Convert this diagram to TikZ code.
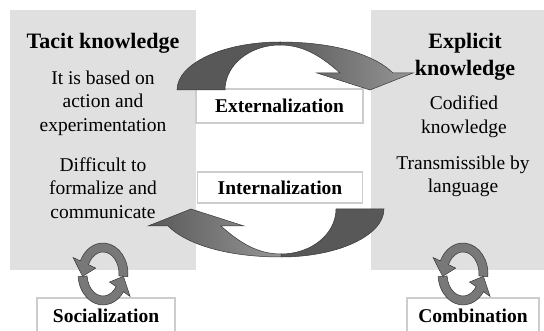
\documentclass[tikz,border=0pt]{standalone}
\usepackage{fontspec}
\setmainfont{LiberationSerif}[Extension=.ttf, UprightFont=*-Regular, BoldFont=*-Bold, ItalicFont=*-Italic, BoldItalicFont=*-BoldItalic]
\usetikzlibrary{calc}
\definecolor{panelgray}{RGB}{224,224,224}
\definecolor{boxline}{RGB}{205,205,205}
\definecolor{arrowdark}{RGB}{88,88,88}
\definecolor{arrowmid}{RGB}{120,120,120}
\definecolor{arrowlight}{RGB}{150,150,150}
\definecolor{arrowline}{RGB}{55,55,55}

\begin{document}
\begin{tikzpicture}[x=1pt,y=-1pt,
    panel/.style ={fill=panelgray, draw=none, inner sep=0pt},
    headtext/.style ={font=\fontsize{22}{27}\selectfont\bfseries, align=center, inner sep=0pt},
    bodytext/.style ={font=\fontsize{19.5}{23.5}\selectfont, align=center, inner sep=0pt},
    labelbox/.style ={fill=white, draw=boxline, line width=1.2pt, inner sep=0pt,
                      font=\fontsize{19.5}{23}\selectfont\bfseries},
    ribbon/.style ={draw=arrowline, line width=0.5pt}]
   \clip (0,0) rectangle (544,331);
   % the two kinds of knowledge
   \node[panel, minimum width=186, minimum height=260] (tacit) at (103,140) {};
   \node[panel, minimum width=180, minimum height=260] (explicit) at (461,140) {};
   \node[headtext] (tacithead) at (103,43) {Tacit knowledge};
   \node[bodytext] (tacitone) at (103,103) {It is based on\\action and\\experimentation};
   \node[bodytext] (tacittwo) at (103,188) {Difficult to\\formalize and\\communicate};
   \node[headtext] (explicithead) at (465,56.5) {Explicit\\knowledge};
   \node[bodytext] (explicitone) at (464,116.5) {Codified\\knowledge};
   \node[bodytext] (explicittwo) at (463,176.5) {Transmissible by\\language};
   % conversion labels
   \node[labelbox, minimum width=167, minimum height=34] (ext)  at (279.5,106) {Externalization};
   \node[labelbox, minimum width=165, minimum height=31] (int)  at (280,187.5) {Internalization};
   \node[labelbox, minimum width=138, minimum height=36] (soc)  at (106,316) {Socialization};
   \node[labelbox, minimum width=132, minimum height=36] (comb) at (473,316) {Combination};
   % curved arrows between the panels
   \foreach \turn in {0,180}{
     \begin{scope}[rotate around={\turn:(280.5,149.5)}]
       \path[ribbon, fill=arrowdark] (177,90) arc[start angle=180, end angle=270, x radius=103, y radius=48]
         -- (280,45) arc[start angle=270, end angle=180, x radius=55, y radius=45] -- cycle;
       \path[ribbon, left color=arrowdark, right color=arrowlight] (280,42) .. controls (335,42) and (375,55) .. (393,73)
         -- (413,73) -- (370,90) -- (317,73) -- (340,73) .. controls (320,55) and (302,45) .. (280,45) -- cycle;
     \end{scope}
   }
   % round arrows
   \foreach \cx in {103,463}{
     \coordinate (ring) at (\cx,274);
     \path[ribbon, fill=arrowmid] ($(ring)+(175:25 and 31)$) arc[start angle=175, end angle=35, x radius=25, y radius=31]
       -- ($(ring)+(35:33 and 39)$) -- ($(ring)+(5:20.5 and 26.5)$) -- ($(ring)+(35:8 and 14)$)
       -- ($(ring)+(35:16 and 22)$) arc[start angle=35, end angle=175, x radius=16, y radius=22] -- cycle;
     \path[ribbon, fill=arrowmid] ($(ring)+(5:25 and 31)$) arc[start angle=5, end angle=-155, x radius=25, y radius=31]
       -- ($(ring)+(-155:33 and 39)$) -- ($(ring)+(-185:20.5 and 26.5)$) -- ($(ring)+(-155:8 and 14)$)
       -- ($(ring)+(-155:16 and 22)$) arc[start angle=-155, end angle=5, x radius=16, y radius=22] -- cycle;
   }
 \end{tikzpicture}
\end{document}
